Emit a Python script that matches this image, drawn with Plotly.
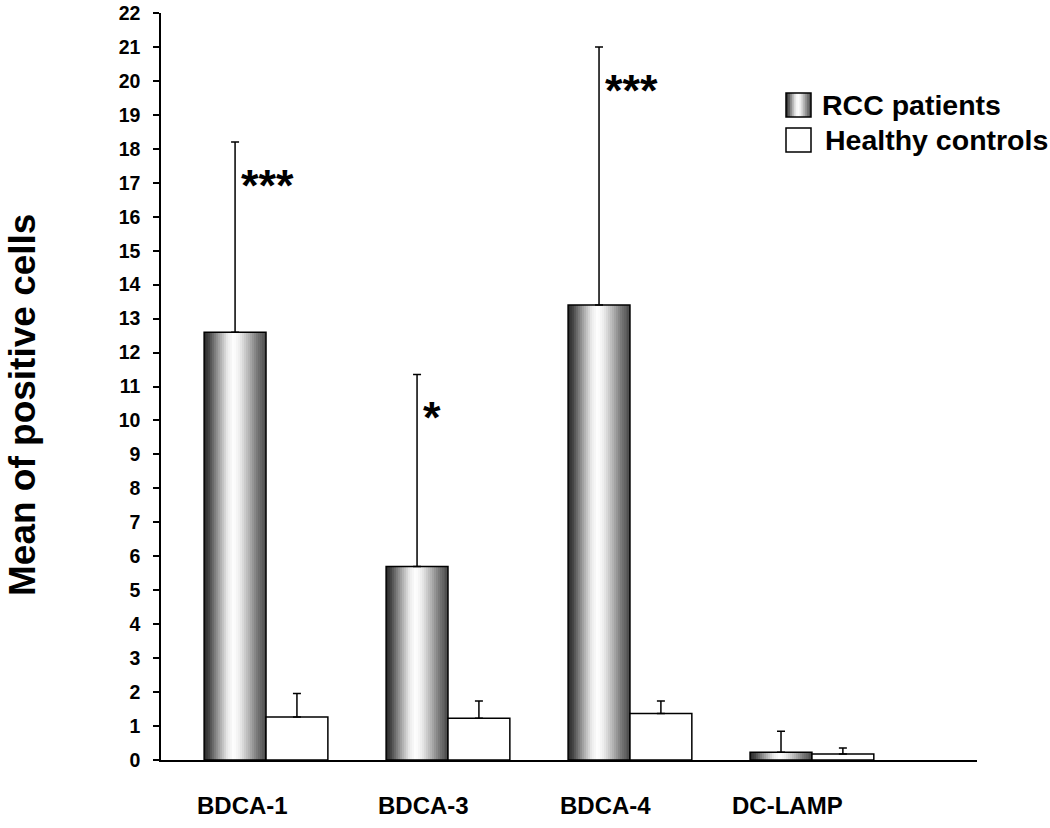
import numpy as np
import plotly.graph_objects as go

# ---------------- data ----------------
categories = ["BDCA-1", "BDCA-3", "BDCA-4", "DC-LAMP"]
rcc_mean = [12.6, 5.7, 13.4, 0.23]
rcc_err = [5.6, 5.65, 7.6, 0.62]
hc_mean = [1.27, 1.23, 1.37, 0.18]
hc_err = [0.69, 0.51, 0.37, 0.17]
significance = ["***", "*", "***", ""]
series_names = ["RCC patients", "Healthy controls"]
y_ticks = list(range(0, 23))

# ---------------- style ----------------
FONT = "Liberation Sans, Arial, sans-serif"
W, H = 1050, 828
ML, MR, MT, MB = 161, 73, 13, 68
PW, PH = W - ML - MR, H - MT - MB
BW = 0.34            # bar width in category units
N_STRIPS = 31

grad_stops = [(0.0, 40), (0.08, 70), (0.22, 150), (0.38, 235), (0.48, 255),
              (0.58, 235), (0.72, 180), (0.86, 120), (1.0, 75)]


def grad(t):
    ts = [s[0] for s in grad_stops]
    vs = [s[1] for s in grad_stops]
    v = int(round(np.interp(t, ts, vs)))
    return f"rgb({v},{v},{v})"


def px_x(p):
    return (p - ML) / PW


def px_y(p):
    return (H - MB - p) / PH


x = np.arange(len(categories))
fig = go.Figure()

# gradient "cylinder" bars for RCC patients, built from narrow overlapping strips
for i in range(N_STRIPS):
    t = (i + 0.5) / N_STRIPS
    fig.add_trace(go.Bar(
        x=x, y=rcc_mean, width=BW - i * BW / N_STRIPS, offset=-BW + i * BW / N_STRIPS,
        marker=dict(color=grad(t), line=dict(width=0)),
        showlegend=False, hoverinfo="skip"))

# RCC outline + error bars
fig.add_trace(go.Bar(
    x=x, y=rcc_mean, width=BW, offset=-BW, name=series_names[0],
    marker=dict(color="rgba(0,0,0,0)", line=dict(color="black", width=1.5)),
    error_y=dict(type="data", array=rcc_err, arrayminus=[0] * len(rcc_err),
                 symmetric=False, color="black", thickness=1.5, width=4),
    showlegend=False))

# Healthy controls
fig.add_trace(go.Bar(
    x=x, y=hc_mean, width=BW, offset=0, name=series_names[1],
    marker=dict(color="white", line=dict(color="black", width=1.5)),
    error_y=dict(type="data", array=hc_err, arrayminus=[0] * len(hc_err),
                 symmetric=False, color="black", thickness=1.5, width=4),
    showlegend=False))

annotations = []
# significance stars
for i, s in enumerate(significance):
    if s:
        annotations.append(dict(
            x=i - BW / 2, y=rcc_mean[i] + rcc_err[i] - 1.1, xref="x", yref="y",
            text=f"<b>{s}</b>", showarrow=False, xanchor="left", yanchor="middle",
            xshift=4, yshift=-6, font=dict(family=FONT, size=45, color="black")))

# category labels
for i, c in enumerate(categories):
    annotations.append(dict(
        x=i, y=px_y(805), xref="x", yref="paper", text=f"<b>{c}</b>",
        showarrow=False, xanchor="center", yanchor="middle", xshift=-24,
        font=dict(family=FONT, size=24, color="black")))

# y-axis title
annotations.append(dict(
    x=px_x(22), y=px_y(405), xref="paper", yref="paper",
    text="<b>Mean of positive cells</b>", textangle=-90, showarrow=False,
    xanchor="center", yanchor="middle", font=dict(family=FONT, size=37, color="black")))

# legend text
annotations.append(dict(
    x=px_x(820), y=px_y(105), xref="paper", yref="paper", text="<b>RCC patients</b>",
    showarrow=False, xanchor="left", yanchor="middle",
    font=dict(family=FONT, size=28.5, color="black")))
annotations.append(dict(
    x=px_x(823), y=px_y(140), xref="paper", yref="paper", text="<b>Healthy controls</b>",
    showarrow=False, xanchor="left", yanchor="middle",
    font=dict(family=FONT, size=28.5, color="black")))

# legend swatches
shapes = []
sx0, sx1 = 786, 811
n_sw = 13
for i in range(n_sw):
    a = sx0 + (sx1 - sx0) * i / n_sw
    shapes.append(dict(type="rect", xref="paper", yref="paper",
                       x0=px_x(a), x1=px_x(sx1), y0=px_y(117), y1=px_y(93),
                       fillcolor=grad((i + 0.5) / n_sw), line=dict(width=0)))
shapes.append(dict(type="rect", xref="paper", yref="paper",
                   x0=px_x(sx0), x1=px_x(sx1), y0=px_y(117), y1=px_y(93),
                   fillcolor="rgba(0,0,0,0)", line=dict(color="black", width=1.5)))
shapes.append(dict(type="rect", xref="paper", yref="paper",
                   x0=px_x(sx0), x1=px_x(sx1), y0=px_y(152), y1=px_y(128),
                   fillcolor="white", line=dict(color="black", width=1.5)))

fig.update_layout(
    width=W, height=H, barmode="overlay",
    margin=dict(l=ML, r=MR, t=MT, b=MB),
    plot_bgcolor="white", paper_bgcolor="white",
    showlegend=False,
    annotations=annotations, shapes=shapes,
    xaxis=dict(range=[-0.577, 3.907], showgrid=False, zeroline=False,
               showticklabels=False, ticks="", showline=True, automargin=False,
               linecolor="black", linewidth=1.5),
    yaxis=dict(range=[0, 22], tickvals=y_ticks, ticktext=[str(v) for v in y_ticks],
               showgrid=False, zeroline=False, showline=True, linecolor="black",
               linewidth=1.5, ticks="outside", ticklen=6, tickwidth=1.5,
               tickcolor="black", ticklabelstandoff=9, ticklabeloverflow="allow",
               automargin=False,
               tickfont=dict(family=FONT, size=19.5, color="black", weight="bold")),
)

fig.write_html(
    "out.html",
    config={"displayModeBar": False},
    post_script="document.body.style.margin='0';document.body.style.overflow='hidden';",
)
